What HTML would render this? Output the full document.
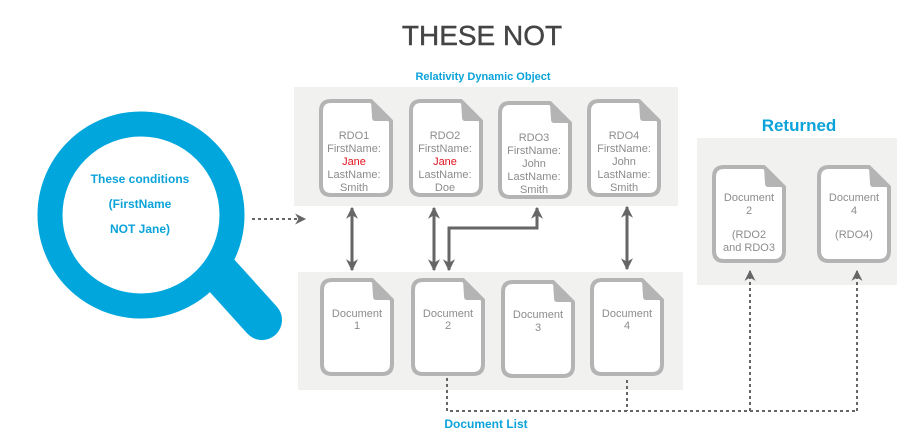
<!DOCTYPE html>
<html><head><meta charset="utf-8"><style>
html,body{margin:0;padding:0;background:#fff;}
svg{display:block;}
text{font-family:"Liberation Sans",sans-serif;}
.t{font-size:11px;fill:#8c8c8c;text-anchor:middle;}
.b{font-weight:bold;fill:#0ba3d9;text-anchor:middle;}
</style></head><body>
<svg width="911" height="432" viewBox="0 0 911 432" xmlns="http://www.w3.org/2000/svg">
<defs>
<g id="doc">
<path d="M12,2 H52 L72,22 V86 Q72,96 62,96 H12 Q2,96 2,86 V12 Q2,2 12,2 Z" fill="#fff" stroke="#b4b4b4" stroke-width="4" stroke-linejoin="round"/>
<path d="M52,2 L72,22 L56,22 Q53,22 53,18 Z" fill="#b4b4b4"/>
</g>
<marker id="ah" viewBox="0 0 10 10" refX="9" refY="5" markerUnits="userSpaceOnUse" markerWidth="14" markerHeight="12" orient="auto-start-reverse"><path d="M0,0 L10,5 L0,10 L3,5 Z" fill="#666"/></marker>
<marker id="ahs" viewBox="0 0 10 10" refX="9" refY="5" markerUnits="userSpaceOnUse" markerWidth="13" markerHeight="11" orient="auto-start-reverse"><path d="M0,0 L10,5 L0,10 L3,5 Z" fill="#666"/></marker>
</defs>
<text x="482" y="45" font-size="28" fill="#444" stroke="#444" stroke-width="0.4" text-anchor="middle">THESE NOT</text>
<text x="483" y="80" class="b" font-size="11">Relativity Dynamic Object</text>
<text x="799" y="131" class="b" font-size="17">Returned</text>
<text x="486" y="428" class="b" font-size="12">Document List</text>

<rect x="294" y="87" width="384" height="119" fill="#f1f1f0"/>
<rect x="298" y="272" width="385" height="118" fill="#f1f1f0"/>
<rect x="697" y="138" width="200" height="147" fill="#f1f1f0"/>

<!-- magnifier -->
<line x1="215" y1="268" x2="262" y2="320" stroke="#00a6dc" stroke-width="40" stroke-linecap="round"/>
<circle cx="141" cy="215" r="91" fill="#fff" stroke="#00a6dc" stroke-width="25"/>
<text x="140" y="183" class="b" font-size="12">These conditions</text>
<text x="140" y="208" class="b" font-size="12">(FirstName</text>
<text x="140" y="233" class="b" font-size="12">NOT Jane)</text>
<line x1="252" y1="219" x2="305" y2="219" stroke="#666" stroke-width="2" stroke-dasharray="3,3" marker-end="url(#ahs)"/>

<!-- RDOs -->
<use href="#doc" x="319" y="99"/>
<use href="#doc" x="409" y="99"/>
<use href="#doc" x="498" y="101"/>
<use href="#doc" x="587" y="99"/>
<text x="354" y="139" class="t">RDO1</text><text x="354" y="152" class="t">FirstName:</text><text x="354" y="165" class="t" style="fill:#e0141e">Jane</text><text x="354" y="178" class="t">LastName:</text><text x="354" y="191" class="t">Smith</text>
<text x="445" y="139" class="t">RDO2</text><text x="445" y="152" class="t">FirstName:</text><text x="445" y="165" class="t" style="fill:#e0141e">Jane</text><text x="445" y="178" class="t">LastName:</text><text x="445" y="191" class="t">Doe</text>
<text x="534" y="141" class="t">RDO3</text><text x="534" y="154" class="t">FirstName:</text><text x="534" y="167" class="t">John</text><text x="534" y="180" class="t">LastName:</text><text x="534" y="193" class="t">Smith</text>
<text x="624" y="139" class="t">RDO4</text><text x="624" y="152" class="t">FirstName:</text><text x="624" y="165" class="t">John</text><text x="624" y="178" class="t">LastName:</text><text x="624" y="191" class="t">Smith</text>

<!-- Docs -->
<use href="#doc" x="320" y="278"/>
<use href="#doc" x="411" y="278"/>
<use href="#doc" x="501" y="280"/>
<use href="#doc" x="590" y="278"/>
<text x="357" y="317" class="t">Document</text><text x="357" y="329" class="t">1</text>
<text x="448" y="317" class="t">Document</text><text x="448" y="329" class="t">2</text>
<text x="538" y="318" class="t">Document</text><text x="538" y="331" class="t">3</text>
<text x="627" y="317" class="t">Document</text><text x="627" y="329" class="t">4</text>

<use href="#doc" x="712" y="165"/>
<use href="#doc" x="817" y="165"/>
<text x="749" y="201" class="t">Document</text><text x="749" y="214" class="t">2</text>
<text x="749" y="238" class="t">(RDO2</text><text x="749" y="251" class="t">and RDO3</text>
<text x="854" y="201" class="t">Document</text><text x="854" y="214" class="t">4</text>
<text x="854" y="238" class="t">(RDO4)</text>

<!-- solid arrows -->
<g stroke="#666" stroke-width="3" fill="none">
<line x1="352" y1="208" x2="352" y2="270" marker-start="url(#ah)" marker-end="url(#ah)"/>
<line x1="434" y1="208" x2="434" y2="270" marker-start="url(#ah)" marker-end="url(#ah)"/>
<line x1="627" y1="207" x2="627" y2="269" marker-start="url(#ah)" marker-end="url(#ah)"/>
<polyline points="449,270 449,228 537,228 537,208" marker-start="url(#ah)" marker-end="url(#ah)"/>
</g>

<!-- dotted -->
<g stroke="#666" stroke-width="2" fill="none" stroke-dasharray="3,3">
<polyline points="447,378 447,411 857,411"/>
<line x1="627" y1="380" x2="627" y2="411"/>
<line x1="750" y1="411" x2="750" y2="271" marker-end="url(#ahs)"/>
<line x1="857" y1="411" x2="857" y2="271" marker-end="url(#ahs)"/>
</g>
</svg>
</body></html>
